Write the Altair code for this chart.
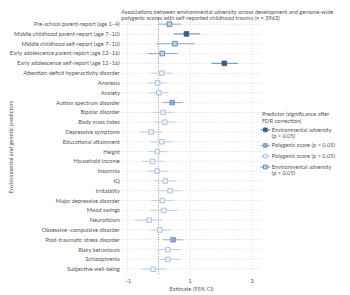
import altair as alt
import pandas as pd

predictors = [
    "Pre-school parent-report (age 1–4)",
    "Middle childhood parent-report (age 7–10)",
    "Middle childhood self-report (age 7–10)",
    "Early adolescence parent-report (age 12–16)",
    "Early adolescence self-report (age 12–16)",
    "Attention-deficit hyperactivity disorder",
    "Anorexia",
    "Anxiety",
    "Autism spectrum disorder",
    "Bipolar disorder",
    "Body mass index",
    "Depressive symptoms",
    "Educational attainment",
    "Height",
    "Household income",
    "Insomnia",
    "IQ",
    "Irritability",
    "Major depressive disorder",
    "Mood swings",
    "Neuroticism",
    "Obsessive–compulsive disorder",
    "Post-traumatic stress disorder",
    "Risky behaviours",
    "Schizophrenia",
    "Subjective well-being",
]
estimates = [0.35, 0.90, 0.53, 0.12, 2.12, 0.11, -0.03, 0.01, 0.44, 0.15, 0.20, -0.24, 0.11,
             -0.04, -0.19, -0.05, 0.22, 0.37, 0.12, 0.17, -0.30, 0.04, 0.47, 0.30, 0.30, -0.17]
ci_low = [-0.01, 0.49, -0.08, -0.35, 1.71, -0.24, -0.34, -0.30, 0.12, -0.19, -0.13, -0.60, -0.27,
          -0.34, -0.51, -0.37, -0.13, -0.01, -0.24, -0.27, -0.76, -0.24, 0.15, 0.00, 0.03, -0.55]
ci_high = [0.72, 1.34, 1.17, 0.61, 2.56, 0.44, 0.28, 0.33, 0.77, 0.48, 0.53, 0.12, 0.46,
           0.30, 0.15, 0.30, 0.58, 0.77, 0.48, 0.60, 0.12, 0.40, 0.78, 0.72, 0.69, 0.25]

ENV_SIG = "Environmental adversity (p < 0.05)"
PGS_SIG = "Polygenic score (p < 0.05)"
PGS_NS = "Polygenic score (p > 0.05)"
ENV_NS = "Environmental adversity (p > 0.05)"
groups = [ENV_NS, ENV_SIG, ENV_NS, ENV_NS, ENV_SIG] + [PGS_NS] * 3 + [PGS_SIG] + [PGS_NS] * 13 \
    + [PGS_SIG] + [PGS_NS] * 3
legend_order = [ENV_SIG, PGS_SIG, PGS_NS, ENV_NS]

stroke_colors = ["#3a5c8a", "#7896c0", "#aabdda", "#5a7dab"]
fill_colors = ["#3a5c8a", "#8eaad0", "#eef2f8", "#c7d5ea"]
line_colors = ["#6d8ebb", "#9db4d5", "#c4d2e7", "#93acd0"]
line_palette = dict(zip(legend_order, line_colors))

ticks = [-1, 0, 1, 2, 3]

df = pd.DataFrame({
    "predictor": predictors,
    "estimate": estimates,
    "lo": ci_low,
    "hi": ci_high,
    "group": groups,
})
df["line_color"] = df["group"].map(line_palette)

FONT = "Lato"
TXT = "#555555"
FS = 5.8

x_scale = alt.Scale(domain=[-1.2, 3.3], nice=False, zero=False)
y_enc = alt.Y(
    "predictor:N",
    sort=predictors,
    title="Environmental and genetic predictors",
    axis=alt.Axis(
        domain=False, ticks=False, labelPadding=2, labelFontSize=FS, labelColor=TXT,
        labelFont=FONT, labelLimit=200, labelOverlap=False, grid=True, gridColor="#c8c8c8",
        gridDash=[1, 2], gridWidth=0.7, titleFontSize=FS, titleFont=FONT, titleColor=TXT,
        titleFontWeight="normal", titleX=-110,
    ),
)

base = alt.Chart(df)

ci = base.mark_rule(strokeWidth=1.1).encode(
    x=alt.X("lo:Q", scale=x_scale, title="Estimate (95% CI)",
            axis=alt.Axis(values=ticks, domain=False, ticks=False, labelPadding=4,
                          labelFontSize=FS, labelColor=TXT, labelFont=FONT, labelOverlap=False,
                          labelFlush=False, grid=True,
                          gridColor="#c8c8c8", gridDash=[1, 2], gridWidth=0.7,
                          titleFontSize=FS, titleFont=FONT, titleColor=TXT,
                          titleFontWeight="normal", titlePadding=2)),
    x2="hi:Q",
    y=y_enc,
    color=alt.Color("line_color:N", scale=None),
)

zero = alt.Chart(pd.DataFrame({"z": [0]})).mark_rule(
    strokeDash=[1, 1.5], color="#777777", strokeWidth=0.8
).encode(x=alt.X("z:Q", scale=x_scale))

sym_path = "M-1.8,0H-0.7M0.7,0H1.8M-0.7,-0.7H0.7V0.7H-0.7Z"
leg = alt.Legend(
    orient="none", legendX=144, legendY=94,
    title=["Predictor (significance after", "FDR correction)"],
    titleFontSize=FS, titleFont=FONT, titleColor=TXT, titleFontWeight="normal",
    titleLineHeight=7, titlePadding=3,
    labelFontSize=FS, labelFont=FONT, labelColor=TXT, labelLimit=200, labelOffset=3,
    symbolType=sym_path, symbolSize=30, symbolStrokeWidth=0.9, rowPadding=2,
    labelExpr="indexof(datum.label, 'Environmental') == 0 ? [slice(datum.label, 0, 23), slice(datum.label, 24)] : datum.label",
)

points = base.mark_square(size=22, strokeWidth=0.9, opacity=1).encode(
    x=alt.X("estimate:Q", scale=x_scale),
    y=alt.Y("predictor:N", sort=predictors),
    fill=alt.Fill("group:N", scale=alt.Scale(domain=legend_order, range=fill_colors), legend=leg),
    stroke=alt.Stroke("group:N", scale=alt.Scale(domain=legend_order, range=stroke_colors), legend=leg),
)

chart = alt.layer(zero, ci, points).properties(
    width=143,
    height=261,
    autosize=alt.AutoSizeParams(type="none"),
    padding={"left": 116, "top": 8, "right": 83, "bottom": 22},
    title=alt.Title(
        text=["Associations between environmental adversity across development and genome-wide",
              "polygenic scores with self-reported childhood trauma (n = 3963)"],
        anchor="start", frame="group", fontSize=FS, font=FONT, color=TXT,
        fontWeight="normal", lineHeight=6.2, offset=-2,
    ),
).configure(
    view=alt.ViewConfig(stroke=None),
    style={"guide-label": {"lineHeight": 6.5}},
)

chart.save("out.html", embed_options={"renderer": "svg", "actions": False})
